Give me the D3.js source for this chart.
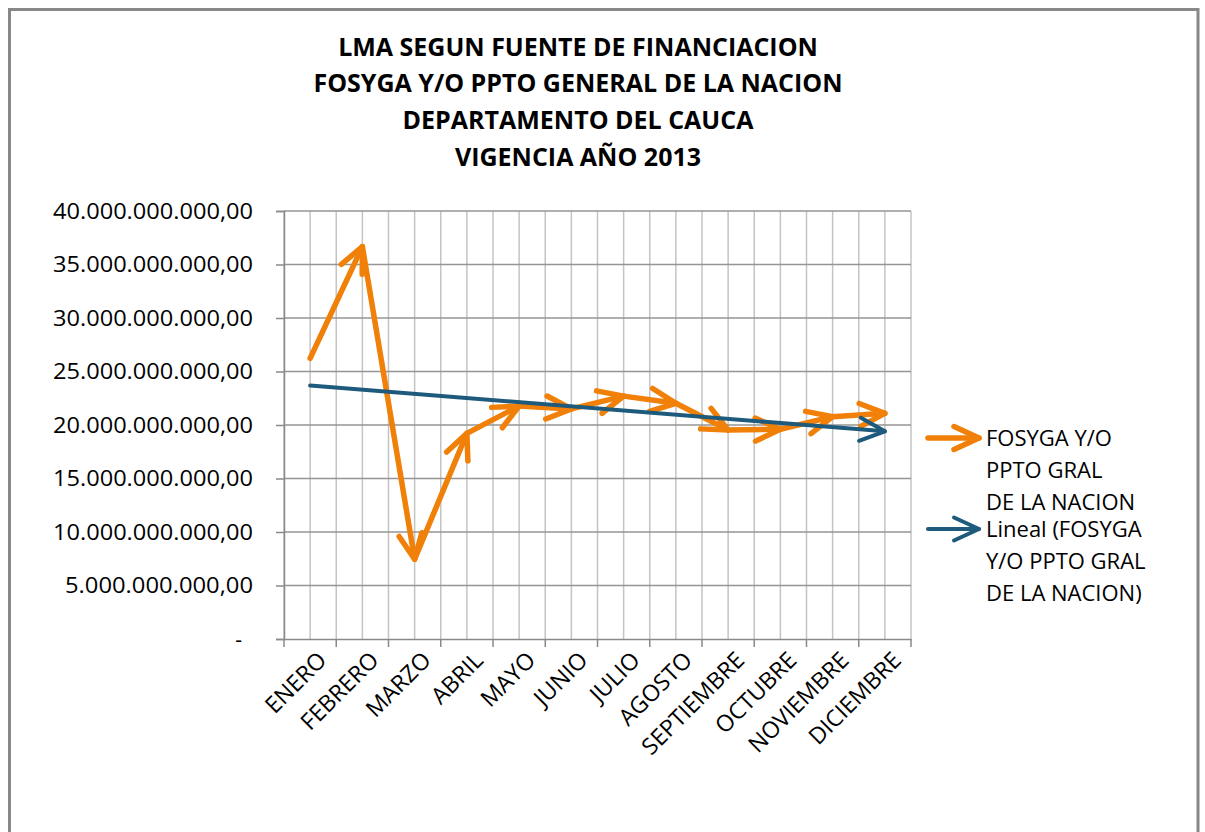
<!DOCTYPE html>
<html>
<head>
<meta charset="utf-8">
<script src="https://cdn.jsdelivr.net/npm/d3@7/dist/d3.min.js"></script>
<style>
  html, body { margin: 0; padding: 0; background: #ffffff; }
  svg { display: block; }
  text { font-family: "Open Sans", "Lato", sans-serif; fill: #000; }
</style>
</head>
<body>
<svg id="chart" width="1205" height="832"></svg>
<script>
// ---- data ----
const titleLines = [
  "LMA SEGUN FUENTE DE FINANCIACION",
  "FOSYGA Y/O PPTO GENERAL DE LA NACION",
  "DEPARTAMENTO DEL CAUCA",
  "VIGENCIA AÑO 2013"
];
const months = ["ENERO","FEBRERO","MARZO","ABRIL","MAYO","JUNIO","JULIO","AGOSTO","SEPTIEMBRE","OCTUBRE","NOVIEMBRE","DICIEMBRE"];
const values = [26.23e9, 36.67e9, 7.45e9, 19.22e9, 21.78e9, 21.5e9, 22.7e9, 22.03e9, 19.53e9, 19.6e9, 20.78e9, 21.09e9];
const yTicks = [0, 5e9, 10e9, 15e9, 20e9, 25e9, 30e9, 35e9, 40e9];
const seriesLabel = ["FOSYGA Y/O", "PPTO GRAL", "DE LA NACION"];
const trendLabel = ["Lineal (FOSYGA", "Y/O PPTO GRAL", "DE LA NACION)"];

// ---- layout ----
const svg = d3.select("#chart");
const plot = {left: 284, right: 911, top: 211, bottom: 639};
const orange = "#F08008";
const blue = "#1E5A7C";

// chart frame
svg.append("rect").attr("x", 9.5).attr("y", 9.5).attr("width", 1188.5).attr("height", 840)
  .attr("fill", "#fff").attr("stroke", "#888").attr("stroke-width", 3);

const x = d3.scaleBand().domain(months).range([plot.left, plot.right]).padding(0);
const y = d3.scaleLinear().domain([0, 40e9]).range([plot.bottom, plot.top]);
const cx = m => x(m) + x.bandwidth() / 2;

// vertical gridlines (band edges and centers)
const vLines = [];
months.forEach(m => { vLines.push(x(m)); vLines.push(cx(m)); });
vLines.push(plot.right);
svg.append("g").selectAll("line").data(vLines).join("line")
  .attr("x1", d => d).attr("x2", d => d).attr("y1", plot.top).attr("y2", plot.bottom)
  .attr("stroke", "#c4c4c4").attr("stroke-width", 1.5);

// horizontal gridlines
svg.append("g").selectAll("line").data(yTicks.filter(t => t > 0)).join("line")
  .attr("x1", plot.left).attr("x2", plot.right).attr("y1", d => y(d)).attr("y2", d => y(d))
  .attr("stroke", "#959595").attr("stroke-width", 1.5);

// y axis
const loc = d3.formatLocale({decimal: ",", thousands: ".", grouping: [3], currency: ["", ""]});
const fmt = v => v === 0 ? "-" : loc.format(",.2f")(v);
const yAxis = d3.axisLeft(y).tickValues(yTicks).tickSize(8).tickPadding(0).tickFormat(fmt);
const gy = svg.append("g").attr("transform", `translate(${plot.left},0)`).call(yAxis);
gy.select(".domain").attr("stroke", "#8a8a8a").attr("stroke-width", 1.5);
gy.selectAll(".tick line").attr("stroke", "#8a8a8a").attr("stroke-width", 1.5);
gy.selectAll(".tick text").attr("x", d => d === 0 ? -42 : -31).attr("dy", "0.35em")
  .style("font-size", "21px").attr("fill", "#000")
  .attr("textLength", d => d === 0 ? null : (d >= 10e9 ? 200 : 188))
  .attr("lengthAdjust", "spacingAndGlyphs");

// x axis
const xAxis = d3.axisBottom(x).tickSize(0).tickFormat(d => d);
const gx = svg.append("g").attr("transform", `translate(0,${plot.bottom})`).call(xAxis);
gx.select(".domain").attr("stroke", "#8a8a8a").attr("stroke-width", 1.5);
gx.selectAll(".tick text").remove();
const edges = months.map(m => x(m)).concat([plot.right]);
gx.selectAll(".edge").data(edges).join("line").attr("class", "edge")
  .attr("x1", d => d).attr("x2", d => d).attr("y1", 0).attr("y2", 8)
  .attr("stroke", "#8a8a8a").attr("stroke-width", 1.5);
svg.append("g").selectAll("text").data(months).join("text")
  .attr("transform", d => `translate(${cx(d) + 12},${plot.bottom + 17}) rotate(-45)`)
  .attr("text-anchor", "end").attr("dy", "0.35em")
  .style("font-size", "23px").text(d => d);

// markers
const defs = svg.append("defs");
function marker(id, color, w) {
  defs.append("marker").attr("id", id)
    .attr("markerUnits", "userSpaceOnUse").attr("viewBox", "-34 -18 42 36")
    .attr("markerWidth", 42).attr("markerHeight", 36).attr("refX", 0).attr("refY", 0)
    .attr("orient", "auto")
    .append("path").attr("d", "M-25,-11.5 L0,0 L-25,11.5")
    .attr("fill", "none").attr("stroke", color).attr("stroke-width", w)
    .attr("stroke-linecap", "round").attr("stroke-linejoin", "round");
}
marker("arrO", orange, 5.5);
marker("arrB", blue, 4);

// trend line (least squares on the series)
const n = values.length;
const xs = d3.range(1, n + 1);
const mx = d3.mean(xs), my = d3.mean(values);
const slope = d3.sum(xs.map((v, i) => (v - mx) * (values[i] - my))) / d3.sum(xs.map(v => (v - mx) ** 2));
const icpt = my - slope * mx;
const trendStart = icpt + slope * 1, trendEnd = icpt + slope * n;

// series segments
const segs = values.slice(1).map((v, i) => ({x1: cx(months[i]), y1: y(values[i]), x2: cx(months[i + 1]), y2: y(v)}));

svg.append("g").selectAll("line").data(segs).join("line")
  .attr("x1", d => d.x1).attr("y1", d => d.y1).attr("x2", d => d.x2).attr("y2", d => d.y2)
  .attr("stroke", orange).attr("stroke-width", 5.5).attr("stroke-linecap", "round")
  .attr("marker-end", "url(#arrO)");

svg.append("line")
  .attr("x1", cx(months[0])).attr("y1", y(trendStart))
  .attr("x2", cx(months[n - 1])).attr("y2", y(trendEnd))
  .attr("stroke", blue).attr("stroke-width", 4).attr("stroke-linecap", "round")
  .attr("marker-end", "url(#arrB)");

// legend
const lg = svg.append("g");
function legendItem(yc, color, mk, lines) {
  lg.append("line").attr("x1", 928).attr("x2", 979).attr("y1", yc).attr("y2", yc)
    .attr("stroke", color).attr("stroke-width", mk === "arrO" ? 5.5 : 4).attr("stroke-linecap", "round")
    .attr("marker-end", `url(#${mk})`);
  lg.append("g").selectAll("text").data(lines).join("text")
    .attr("x", 986).attr("y", (d, i) => yc + i * 32).attr("dy", "0.35em")
    .style("font-size", "22px").text(d => d);
}
legendItem(438, orange, "arrO", seriesLabel);
legendItem(529, blue, "arrB", trendLabel);

// title
svg.append("g").selectAll("text").data(titleLines).join("text")
  .attr("x", 578).attr("y", (d, i) => 47 + i * 36.7).attr("dy", "0.35em")
  .attr("text-anchor", "middle").style("font-size", "25px").style("font-weight", "700")
  .text(d => d);
</script>
</body>
</html>
